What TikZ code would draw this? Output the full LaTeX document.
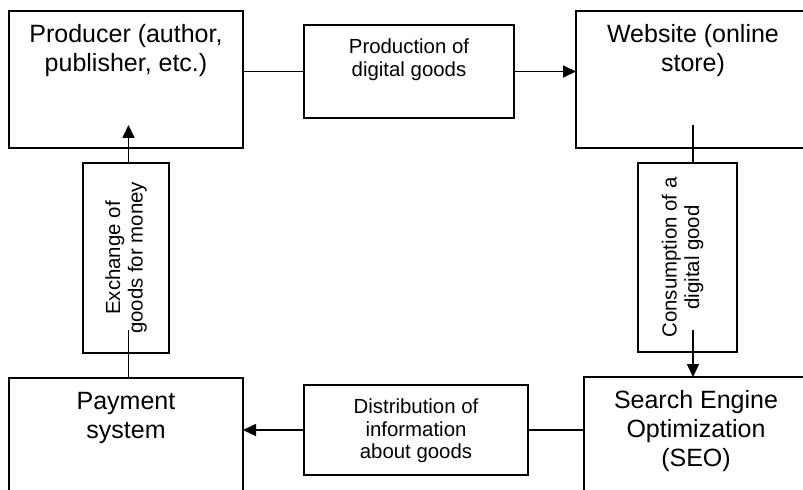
\documentclass[tikz,border=0pt]{standalone}
\usepackage{fontspec}
\setmainfont{Liberation Sans}
\usetikzlibrary{arrows.meta,calc}
\begin{document}
\begin{tikzpicture}[x=1bp,y=-1bp,
  box/.style={draw, line width=1.6bp, inner sep=0pt, outer sep=0pt, anchor=north west},
  conn/.style={line width=1.6bp},
  arr/.style={conn, -{Triangle[length=13bp,width=12bp]}},
  bigtext/.style={font=\fontsize{25bp}{29bp}\selectfont, align=center, inner sep=0pt, anchor=north},
  smalltext/.style={font=\fontsize{20.4bp}{22.5bp}\selectfont, align=center, inner sep=0pt}]
\clip (0,0) rectangle (803,490);

% main blocks
\node[box, minimum width=234bp, minimum height=137bp] (prod) at (9,11) {};
\node[box, minimum width=234bp, minimum height=137bp] (web) at (576,11) {};
\node[box, minimum width=234bp, minimum height=150bp] (pay) at (9,378) {};
\node[box, minimum width=224bp, minimum height=150bp] (seo) at (584,377) {};

% process boxes on the connectors
\node[box, minimum width=210bp, minimum height=93bp] (pg) at (304,25) {};
\node[box, minimum width=224bp, minimum height=90bp] (dg) at (304,385) {};
\node[box, minimum width=86bp, minimum height=190bp] (xg) at (83,163) {};
\node[box, minimum width=99bp, minimum height=189bp] (cg) at (638,163) {};

% block labels
\node[bigtext] (prodT) at ([yshift=-11.2bp]prod.north) {\strut Producer (author,\\publisher, etc.)};
\node[bigtext] (webT) at ([yshift=-11.2bp]web.north) {\strut Website (online\\store)};
\node[bigtext] (payT) at ([yshift=-11.2bp]pay.north) {\strut Payment\\system};
\node[bigtext] (seoT) at ([yshift=-10.5bp]seo.north) {\strut Search Engine\\Optimization\\(SEO)};

% process labels
\node[smalltext, anchor=north] (pgT) at ([yshift=-12.75bp]pg.north) {\strut Production of\\digital goods};
\node[smalltext, anchor=north] (dgT) at ([yshift=-12.75bp]dg.north) {\strut Distribution of\\information\\about goods};
\node[smalltext, rotate=90] (xgT) at (xg.center) {Exchange of\\goods for money};
\node[smalltext, rotate=90] (cgT) at ([xshift=-5bp]cg.center) {Consumption of a\\digital good};

% top flow
\draw[conn] (prod.east |- pg.west) -- (pg.west);
\draw[arr] (pg.east) -- (web.west |- pg.east);

% right flow
\coordinate (wtop) at ($(web.south)+(0,-23)$);
\draw[conn] (wtop) -- (wtop |- cg.north);
\coordinate (cgin) at (wtop |- 0,330);
\draw[arr] (cgin) -- (wtop |- seo.north);

% bottom flow
\draw[conn] (seo.west |- dg.east) -- (dg.east);
\draw[arr] (dg.west) -- (pay.east |- dg.west);

% left flow
\coordinate (pbot) at ($(pay.north)+(2.5,0)$);
\coordinate (xgin) at (pbot |- 0,330);
\draw[conn] (pbot) -- (xgin);
\draw[arr] (pbot |- xg.north) -- (pbot |- 0,125);
\end{tikzpicture}
\end{document}
